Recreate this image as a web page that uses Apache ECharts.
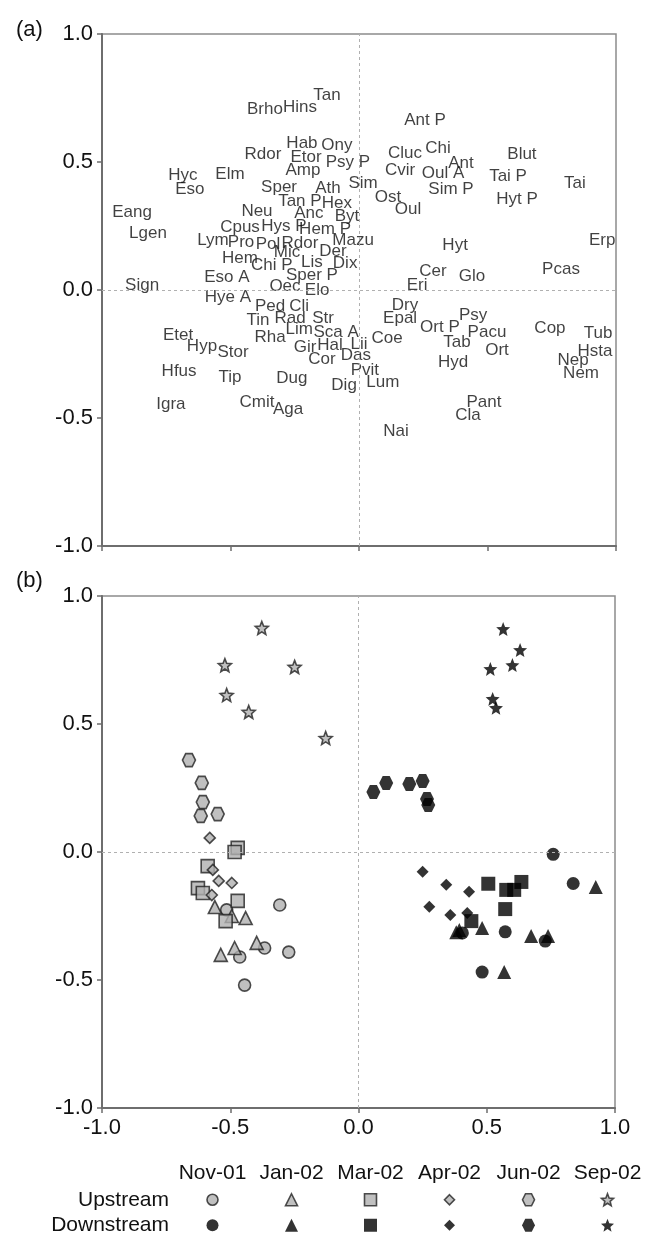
<!DOCTYPE html>
<html>
<head>
<meta charset="utf-8">
<script src="https://cdn.jsdelivr.net/npm/echarts/dist/echarts.min.js"></script>
<style>
  html, body { margin: 0; padding: 0; background: #fff; }
  #chart { width: 649px; height: 1238px; }
</style>
</head>
<body>
<div id="chart"></div>
<script>
// (a) species scores on the first two ordination axes
const speciesNames = [
  'Tan', 'Brho', 'Hins', 'Hab', 'Ony', 'Rdor', 'Etor', 'Psy P', 'Amp', 'Hyc',
  'Eso', 'Elm', 'Sper', 'Ath', 'Sim', 'Tan P', 'Hex', 'Eang', 'Neu', 'Anc',
  'Byt', 'Lgen', 'Cpus', 'Hys P', 'Hem P', 'Lym', 'Pro', 'Pol', 'Rdor', 'Mazu',
  'Mic', 'Der', 'Hem', 'Chi P', 'Lis', 'Dix', 'Eso A', 'Sper P', 'Sign', 'Oec',
  'Elo', 'Ant P', 'Cluc', 'Chi', 'Ant', 'Blut', 'Cvir', 'Oul A', 'Tai P', 'Tai',
  'Sim P', 'Hyt P', 'Ost', 'Oul', 'Erp', 'Hyt', 'Cer', 'Glo', 'Pcas', 'Eri',
  'Hye A', 'Ped', 'Cli', 'Tin', 'Rad', 'Str', 'Lim', 'Sca A', 'Etet', 'Rha',
  'Hyp', 'Stor', 'Gir', 'Hal', 'Lii', 'Cor', 'Das', 'Hfus', 'Tip', 'Dug',
  'Pvit', 'Dig', 'Lum', 'Igra', 'Cmit', 'Aga', 'Dry', 'Epal', 'Coe', 'Ort P',
  'Psy', 'Pacu', 'Tab', 'Ort', 'Hyd', 'Cop', 'Tub', 'Hsta', 'Nep', 'Nem',
  'Pant', 'Cla', 'Nai'
];
const speciesAxis1 = [
  -0.125, -0.366, -0.230, -0.222, -0.086, -0.374, -0.206, -0.043, -0.218, -0.685,
  -0.658, -0.502, -0.311, -0.121, 0.016, -0.230, -0.086, -0.883, -0.397, -0.195,
  -0.047, -0.821, -0.463, -0.292, -0.132, -0.568, -0.459, -0.354, -0.230, -0.023,
  -0.280, -0.101, -0.463, -0.339, -0.183, -0.054, -0.514, -0.183, -0.844, -0.288,
  -0.163, 0.257, 0.179, 0.307, 0.397, 0.634, 0.160, 0.327, 0.580, 0.840,
  0.358, 0.615, 0.113, 0.191, 0.946, 0.374, 0.288, 0.440, 0.786, 0.226,
  -0.510, -0.346, -0.233, -0.393, -0.268, -0.140, -0.233, -0.089, -0.704, -0.346,
  -0.611, -0.490, -0.210, -0.113, 0.000, -0.144, -0.012, -0.700, -0.502, -0.261,
  0.023, -0.058, 0.093, -0.732, -0.397, -0.276, 0.179, 0.160, 0.109, 0.315,
  0.444, 0.498, 0.381, 0.537, 0.366, 0.743, 0.930, 0.918, 0.833, 0.864,
  0.486, 0.424, 0.144
];
const speciesAxis2 = [
  0.762, 0.707, 0.715, 0.574, 0.566, 0.531, 0.520, 0.500, 0.469, 0.449,
  0.395, 0.453, 0.402, 0.398, 0.418, 0.348, 0.340, 0.305, 0.309, 0.301,
  0.289, 0.223, 0.246, 0.250, 0.238, 0.195, 0.188, 0.180, 0.184, 0.195,
  0.148, 0.152, 0.125, 0.098, 0.109, 0.105, 0.051, 0.059, 0.020, 0.016,
  0.000, 0.664, 0.535, 0.555, 0.496, 0.531, 0.469, 0.457, 0.445, 0.418,
  0.395, 0.355, 0.363, 0.316, 0.195, 0.176, 0.074, 0.055, 0.082, 0.020,
  -0.027, -0.063, -0.063, -0.117, -0.109, -0.109, -0.152, -0.164, -0.176, -0.184,
  -0.219, -0.242, -0.223, -0.215, -0.211, -0.270, -0.254, -0.316, -0.340, -0.344,
  -0.313, -0.371, -0.359, -0.445, -0.438, -0.465, -0.059, -0.109, -0.188, -0.145,
  -0.098, -0.164, -0.203, -0.234, -0.281, -0.148, -0.168, -0.238, -0.273, -0.324,
  -0.438, -0.488, -0.551
];

// (b) sample scores, one list per date and site
const months = ['Nov-01', 'Jan-02', 'Mar-02', 'Apr-02', 'Jun-02', 'Sep-02'];
const sites = ['Downstream', 'Upstream'];
const nov01Up = [[-0.307, -0.207], [-0.514, -0.226], [-0.366, -0.375], [-0.272, -0.391], [-0.463, -0.410], [-0.444, -0.520]];
const nov01Down = [[0.759, -0.009], [0.837, -0.123], [0.405, -0.316], [0.572, -0.312], [0.728, -0.348], [0.482, -0.469]];
const jan02Up = [[-0.560, -0.215], [-0.494, -0.250], [-0.440, -0.258], [-0.397, -0.355], [-0.483, -0.375], [-0.537, -0.402]];
const jan02Down = [[0.925, -0.137], [0.393, -0.305], [0.381, -0.313], [0.482, -0.297], [0.673, -0.328], [0.739, -0.328], [0.568, -0.469]];
const mar02Up = [[-0.471, 0.016], [-0.483, 0.000], [-0.588, -0.055], [-0.626, -0.141], [-0.607, -0.160], [-0.471, -0.191], [-0.518, -0.270]];
const mar02Down = [[0.506, -0.124], [0.576, -0.148], [0.607, -0.148], [0.635, -0.117], [0.572, -0.223], [0.440, -0.270]];
const apr02Up = [[-0.580, 0.055], [-0.568, -0.070], [-0.545, -0.113], [-0.494, -0.121], [-0.572, -0.168]];
const apr02Down = [[0.250, -0.077], [0.342, -0.128], [0.431, -0.155], [0.276, -0.214], [0.358, -0.246], [0.424, -0.238]];
const jun02Up = [[-0.661, 0.359], [-0.611, 0.270], [-0.607, 0.195], [-0.615, 0.141], [-0.549, 0.148]];
const jun02Down = [[0.058, 0.234], [0.108, 0.270], [0.198, 0.266], [0.250, 0.277], [0.267, 0.207], [0.272, 0.184]];
const sep02Up = [[-0.377, 0.875], [-0.521, 0.730], [-0.249, 0.723], [-0.514, 0.613], [-0.428, 0.547], [-0.128, 0.445]];
const sep02Down = [[0.564, 0.871], [0.630, 0.789], [0.600, 0.730], [0.514, 0.715], [0.523, 0.598], [0.536, 0.563]];

const FONT = 'Liberation Sans, Arial, sans-serif';
const HEX = 'path://M-10,0L-5,-8.66L5,-8.66L10,0L5,8.66L-5,8.66Z';
const STAR = 'path://M0,-10L2.6,-3.6L9.51,-3.09L4.2,1.4L5.88,8.09L0,4.4L-5.88,8.09L-4.2,1.4L-9.51,-3.09L-2.6,-3.6Z';

// symbol and size for each date, same order as months
const markerShapes = ['circle', 'triangle', 'rect', 'diamond', HEX, STAR];
const upSizes = [12, 13, 13, 11, 13, 13];
const downSizes = [13, 14, 14, 12, 14, 14];
const upData = [nov01Up, jan02Up, mar02Up, apr02Up, jun02Up, sep02Up];
const downData = [nov01Down, jan02Down, mar02Down, apr02Down, jun02Down, sep02Down];

const upStyle = { color: '#b0b0b0', borderColor: '#222', borderWidth: 1.6 };
const downStyle = { color: '#000', borderColor: '#000', borderWidth: 0 };

const chart = echarts.init(document.getElementById('chart'));

function plotAxis(gridIndex, showLabels) {
  return {
    gridIndex: gridIndex,
    type: 'value',
    min: -1,
    max: 1,
    interval: 0.5,
    axisLine: { show: true, onZero: false, lineStyle: { color: '#6e6e6e', width: 2 } },
    axisTick: { show: true, inside: false, length: 5, lineStyle: { color: '#6e6e6e', width: 1.5 } },
    axisLabel: {
      show: showLabels,
      margin: 9,
      fontFamily: FONT,
      fontSize: 22,
      color: '#111',
      showMinLabel: true,
      showMaxLabel: true,
      formatter: v => v.toFixed(1)
    },
    splitLine: { show: false }
  };
}

function zeroLines(gridIndex) {
  return {
    type: 'scatter',
    xAxisIndex: gridIndex,
    yAxisIndex: gridIndex,
    data: [],
    silent: true,
    z: 1,
    markLine: {
      silent: true,
      symbol: 'none',
      label: { show: false },
      lineStyle: { color: '#b0b0b0', type: [3, 3], width: 1 },
      data: [{ xAxis: 0 }, { yAxis: 0 }]
    }
  };
}

const series = [zeroLines(0), zeroLines(1)];

series.push({
  type: 'scatter',
  xAxisIndex: 0,
  yAxisIndex: 0,
  symbolSize: 0,
  z: 3,
  data: speciesNames.map((n, i) => ({ name: n, value: [speciesAxis1[i], speciesAxis2[i]] })),
  label: {
    show: true,
    position: 'inside',
    formatter: p => p.name,
    fontFamily: FONT,
    fontSize: 17,
    color: '#111'
  }
});

months.forEach((m, i) => {
  series.push({
    name: m + ' Upstream',
    type: 'scatter',
    xAxisIndex: 1,
    yAxisIndex: 1,
    symbol: markerShapes[i],
    symbolSize: upSizes[i],
    itemStyle: upStyle,
    z: 3,
    data: upData[i]
  });
  series.push({
    name: m + ' Downstream',
    type: 'scatter',
    xAxisIndex: 1,
    yAxisIndex: 1,
    symbol: markerShapes[i],
    symbolSize: downSizes[i],
    itemStyle: downStyle,
    z: 3,
    data: downData[i]
  });
  // key below the plot
  series.push({
    type: 'scatter',
    xAxisIndex: 2,
    yAxisIndex: 2,
    symbol: markerShapes[i],
    symbolSize: upSizes[i] - 1,
    itemStyle: upStyle,
    data: [[m, 'Upstream']]
  });
  series.push({
    type: 'scatter',
    xAxisIndex: 2,
    yAxisIndex: 2,
    symbol: markerShapes[i],
    symbolSize: downSizes[i] - 1,
    itemStyle: downStyle,
    data: [[m, 'Downstream']]
  });
});

chart.setOption({
  animation: false,
  backgroundColor: '#fff',
  title: [
    { text: '(a)', left: 11, top: 14, textStyle: { fontFamily: FONT, fontSize: 22, fontWeight: 'normal', color: '#111' } },
    { text: '(b)', left: 11, top: 565, textStyle: { fontFamily: FONT, fontSize: 22, fontWeight: 'normal', color: '#111' } }
  ],
  grid: [
    { left: 102, top: 34, width: 514, height: 512, show: true, borderColor: '#8c8c8c', borderWidth: 1.5 },
    { left: 102, top: 596, width: 513, height: 512, show: true, borderColor: '#8c8c8c', borderWidth: 1.5 },
    { left: 173, top: 1187, width: 474, height: 52 }
  ],
  xAxis: [
    plotAxis(0, false),
    plotAxis(1, true),
    {
      gridIndex: 2,
      type: 'category',
      position: 'top',
      data: months,
      axisLine: { show: false },
      axisTick: { show: false },
      axisLabel: { margin: 3, fontFamily: FONT, fontSize: 21, color: '#111', interval: 0 }
    }
  ],
  yAxis: [
    plotAxis(0, true),
    plotAxis(1, true),
    {
      gridIndex: 2,
      type: 'category',
      data: sites,
      axisLine: { show: false },
      axisTick: { show: false },
      axisLabel: { margin: 4, fontFamily: FONT, fontSize: 21, color: '#111', interval: 0 }
    }
  ],
  series: series
});
</script>
</body>
</html>
